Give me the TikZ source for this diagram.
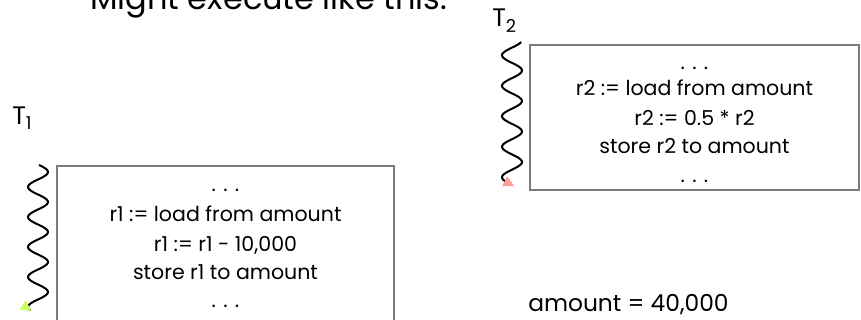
\documentclass[tikz,border=0pt]{standalone}
\usepackage{fontspec}
\setmainfont{Poppins}
\usetikzlibrary{arrows.meta}
\definecolor{boxgray}{HTML}{7A7A7A}
\definecolor{tippink}{HTML}{FF9C9C}
\definecolor{tipgreen}{HTML}{CCFF66}
\tikzset{
  codebox/.style={draw=boxgray, line width=1.1pt, rectangle, inner sep=0pt},
  codeline/.style={anchor=base, font=\fontsize{15.4}{17}\selectfont, inner sep=0pt},
  wave/.style={line width=1.5pt, black},
  tlabel/.style={anchor=base west, font=\fontsize{19}{22}\selectfont, inner sep=0pt},
}
\begin{document}
\begin{tikzpicture}[x=0.75pt,y=-0.75pt]
\useasboundingbox (0,0) rectangle (861,320);
\clip (0,0) rectangle (861,320);

% title
\node[anchor=base west, inner sep=0pt, font=\fontsize{24}{28}\selectfont] (title) at (90,10) {Might execute like this.};

% thread labels
\node[tlabel] (t2) at (492,27) {T\textsubscript{2}};
\node[tlabel] (t1) at (12,125) {T\textsubscript{1}};

% boxes
\node[codebox, minimum width=246.75pt, minimum height=108.75pt] (b2) at (694.5,117.5) {};
\node[codebox, minimum width=252.75pt, minimum height=130.5pt] (b1) at (225.5,253) {};

% T2 text
\node[codeline] (b2l0) at (694.5,70) {. . .};
\node[codeline] (b2l1) at (694.5,96) {r2 := load from amount};
\node[codeline] (b2l2) at (694.5,126) {r2 := 0.5 * r2};
\node[codeline] (b2l3) at (694.5,154) {store r2 to amount};
\node[codeline] (b2l4) at (694.5,183) {. . .};

% T1 text
\node[codeline] (b1l0) at (225.5,192) {. . .};
\node[codeline] (b1l1) at (225.5,222) {r1 := load from amount};
\node[codeline] (b1l2) at (225.5,252) {r1 := r1 - 10,000};
\node[codeline] (b1l3) at (225.5,280) {store r1 to amount};
\node[codeline] (b1l4) at (225.5,308) {. . .};

% amount
\node[anchor=base west, inner sep=0pt, font=\fontsize{17.5}{20}\selectfont] (amt) at (528,312) {amount = 40,000};

% wavy thread lines
\draw[wave, -{Triangle[length=8pt,width=8pt,color=tippink]}]
  plot[domain=42:186, samples=120, smooth] ({512+10*cos(11.8*(\x-40))}, \x);
\draw[wave, -{Triangle[length=8pt,width=8pt,color=tipgreen]}]
  plot[domain=165:311, samples=120, smooth] ({38+10*cos(12*(\x-172))}, \x);
\end{tikzpicture}
\end{document}
